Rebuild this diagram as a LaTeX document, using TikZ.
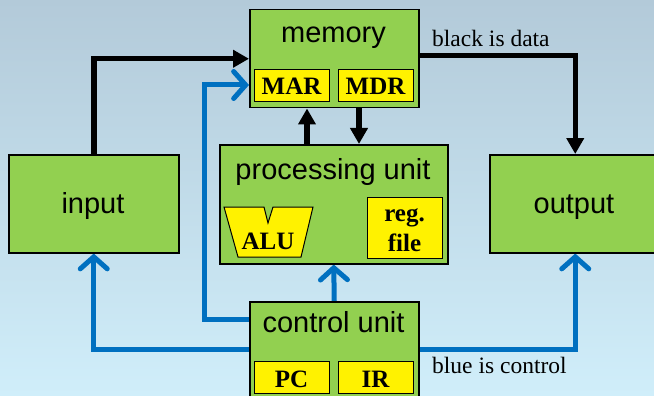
\documentclass[tikz,border=0pt]{standalone}
\usepackage{fontspec}
\newfontfamily\sansf{Liberation Sans}
\newfontfamily\seriff{Liberation Serif}
\usetikzlibrary{arrows.meta}
\definecolor{boxgreen}{HTML}{92D050}
\definecolor{ctlblue}{HTML}{0070C0}
\definecolor{bgtop}{HTML}{B3CAD9}
\definecolor{bgbot}{HTML}{D0EEFA}
\begin{document}
\begin{tikzpicture}[x=1pt,y=-1pt,
  unit/.style={draw=black, line width=1.5pt, fill=boxgreen, inner sep=0pt, anchor=north west},
  regbox/.style={draw=black, line width=1pt, fill=yellow, inner sep=0pt, anchor=north west},
  unitlbl/.style={font=\sansf\fontsize{29}{32}\selectfont, anchor=base, inner sep=0pt},
  reglbl/.style={font=\seriff\bfseries\fontsize{25}{28}\selectfont, anchor=base, inner sep=0pt},
  caption/.style={font=\seriff\fontsize{23.5}{26}\selectfont, anchor=base west, inner sep=0pt},
  data/.style={line width=5.5pt, draw=black, -{Triangle[length=16pt,width=17pt]}},
  ctl/.style={line width=5pt, draw=ctlblue, -{Straight Barb[length=12pt,width=27pt,line cap=round]}}
]
\useasboundingbox (0,0) rectangle (654,396);
\clip (0,0) rectangle (654,396);
\shade[top color=bgtop, bottom color=bgbot] (0,0) rectangle (654,396);

% helper coordinates
\coordinate (xup) at (307,0);
\coordinate (xdn) at (359,0);
\coordinate (xbl) at (204,0);
\coordinate (ymar) at (0,85);
\coordinate (yc1) at (0,319);
\coordinate (yc2) at (0,349);

% unit boxes
\node[unit, minimum width=169pt, minimum height=98pt] (mem) at (249,9) {};
\node[unit, minimum width=228pt, minimum height=119pt] (proc) at (219,144) {};
\node[unit, minimum width=169pt, minimum height=110pt] (ctl) at (249,301) {};
\node[unit, minimum width=170pt, minimum height=98pt] (in) at (8,154) {};
\node[unit, minimum width=171pt, minimum height=98pt] (out) at (489,154) {};

% connectors (data)
\draw[data] (in.north) |- (mem.west);
\draw[data] ([yshift=3pt]mem.east) -| (out.north);
\draw[data] (proc.north -| xup) -- (mem.south -| xup);
\draw[data] (mem.south -| xdn) -- (proc.north -| xdn);

% connectors (control)
\draw[ctl] (ctl.north) -- (proc.south);
\draw[ctl] (ctl.west |- yc1) -| (xbl |- ymar) -- (mem.west |- ymar);
\draw[ctl] (ctl.west |- yc2) -| (in.south);
\draw[ctl] (ctl.east |- yc2) -| (out.south);

% redraw boxes on top of line ends
\node[unit, minimum width=169pt, minimum height=98pt] at (249,9) {};
\node[unit, minimum width=228pt, minimum height=119pt] at (219,144) {};
\node[unit, minimum width=169pt, minimum height=110pt] at (249,301) {};
\node[unit, minimum width=170pt, minimum height=98pt] at (8,154) {};
\node[unit, minimum width=171pt, minimum height=98pt] at (489,154) {};

% unit labels
\node[unitlbl] (memlbl) at (333.5,43) {memory};
\node[unitlbl] (proclbl) at (333,179) {processing unit};
\node[unitlbl] (ctllbl) at (333.5,332) {control unit};
\node[unitlbl] (inlbl) at (93,213) {input};
\node[unitlbl] (outlbl) at (574,213) {output};

% registers
\node[regbox, minimum width=75pt, minimum height=32pt] (mar) at (254,69) {};
\node[regbox, minimum width=75pt, minimum height=32pt] (mdr) at (338,69) {};
\node[regbox, minimum width=75pt, minimum height=32pt] (pc) at (254,361) {};
\node[regbox, minimum width=75pt, minimum height=32pt] (ir) at (338,361) {};
\node[regbox, minimum width=75pt, minimum height=61pt] (rf) at (367,197) {};
\draw[line width=1pt, fill=yellow] (224,207) -- (264,207) -- (268,223) -- (273,207) -- (313,207) -- (301,257) -- (238,257) -- cycle;

\node[reglbl] at (291.5,95) {MAR};
\node[reglbl] at (375.5,95) {MDR};
\node[reglbl] at (291.5,387) {PC};
\node[reglbl] at (375.5,387) {IR};
\node[reglbl] at (268,249) {ALU};
\node[reglbl] at (404.5,221) {reg.};
\node[reglbl] at (404.5,251) {file};

% captions
\node[caption] (cap1) at (432,47) {black is data};
\node[caption] (cap2) at (432,373) {blue is control};
\end{tikzpicture}
\end{document}
